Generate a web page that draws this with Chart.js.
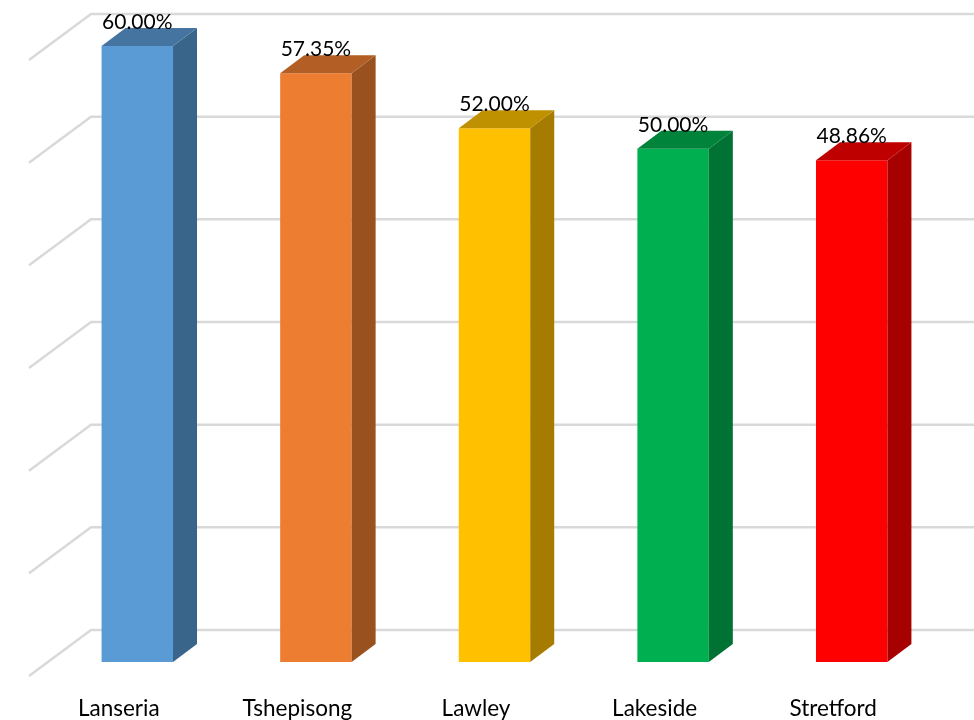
<!DOCTYPE html>
<html>
<head>
<meta charset="utf-8">
<title>Chart</title>
<script src="https://cdn.jsdelivr.net/npm/chart.js@4"></script>
<style>
    html, body { margin: 0; padding: 0; background: #fff; }
    canvas { display: block; }
</style>
</head>
<body>
<canvas id="barChart" width="974" height="720"></canvas>
<script>
const categories = ['Lanseria', 'Tshepisong', 'Lawley', 'Lakeside', 'Stretford'];
const percentValues = [60.00, 57.35, 52.00, 50.00, 48.86];
const axisTicks = [0, 10, 20, 30, 40, 50, 60];

const frontColors = ['#5B9BD5', '#ED7D31', '#FFC000', '#00B050', '#FF0000'];
const sideColors = ['#3A658B', '#9A5120', '#A67C00', '#007233', '#A60000'];
const topColors = ['#44749F', '#B25E25', '#BF9000', '#00843C', '#BF0000'];

const GRID_COLOR = '#D9D9D9';
const BAR_DEPTH = { x: 24, y: 18 };      // side and top faces of a bar
const WALL_BACK = 32;                    // back wall lines sit this far above the bar scale
const WALL_FRONT = { x: 29, y: 14 };     // where the side wall lines start
const WALL_CORNER_X = 91;

// back wall and side wall lines, behind the bars
const wallGrid = {
    id: 'wallGrid',
    beforeDatasetsDraw(chart) {
        const { ctx, scales: { y } } = chart;
        ctx.save();
        ctx.strokeStyle = GRID_COLOR;
        ctx.lineWidth = 2.5;
        ctx.lineJoin = 'miter';
        axisTicks.forEach(tick => {
            const py = y.getPixelForValue(tick);
            ctx.beginPath();
            ctx.moveTo(WALL_FRONT.x, py + WALL_FRONT.y);
            ctx.lineTo(WALL_CORNER_X, py - WALL_BACK);
            ctx.lineTo(chart.width, py - WALL_BACK);
            ctx.stroke();
        });
        ctx.restore();
    }
};

// side and top faces, then the value labels
const barFaces = {
    id: 'barFaces',
    afterDatasetsDraw(chart) {
        const { ctx } = chart;
        const bars = chart.getDatasetMeta(0).data;
        ctx.save();
        bars.forEach((bar, i) => {
            const left = bar.x - bar.width / 2;
            const right = bar.x + bar.width / 2;

            ctx.fillStyle = sideColors[i];
            ctx.beginPath();
            ctx.moveTo(right, bar.y);
            ctx.lineTo(right + BAR_DEPTH.x, bar.y - BAR_DEPTH.y);
            ctx.lineTo(right + BAR_DEPTH.x, bar.base - BAR_DEPTH.y);
            ctx.lineTo(right, bar.base);
            ctx.closePath();
            ctx.fill();

            ctx.fillStyle = topColors[i];
            ctx.beginPath();
            ctx.moveTo(left, bar.y);
            ctx.lineTo(left + BAR_DEPTH.x, bar.y - BAR_DEPTH.y);
            ctx.lineTo(right + BAR_DEPTH.x, bar.y - BAR_DEPTH.y);
            ctx.lineTo(right, bar.y);
            ctx.closePath();
            ctx.fill();
        });
        ctx.fillStyle = '#000';
        ctx.font = '21px Lato, "Open Sans", sans-serif';
        ctx.textAlign = 'center';
        ctx.textBaseline = 'alphabetic';
        bars.forEach((bar, i) => {
            ctx.fillText(percentValues[i].toFixed(2) + '%', bar.x, bar.y - 17);
        });
        ctx.restore();
    }
};

new Chart(document.getElementById('barChart').getContext('2d'), {
    type: 'bar',
    data: {
        labels: categories,
        datasets: [{
            data: percentValues,
            backgroundColor: frontColors,
            borderWidth: 0,
            barPercentage: 0.4,
            categoryPercentage: 1
        }]
    },
    options: {
        responsive: false,
        animation: false,
        layout: { padding: { left: 48, right: 33, top: 46, bottom: 0 } },
        plugins: { legend: { display: false }, tooltip: { enabled: false } },
        scales: {
            x: {
                grid: { display: false },
                border: { display: false },
                afterFit(scale) { scale.height = 58; },
                ticks: {
                    color: '#000',
                    font: { family: 'Lato, "Open Sans", sans-serif', size: 22.5 },
                    padding: 25,
                    labelOffset: -18.5,
                    maxRotation: 0
                }
            },
            y: {
                display: false,
                min: 0,
                max: 60,
                afterBuildTicks(scale) { scale.ticks = axisTicks.map(value => ({ value })); }
            }
        }
    },
    plugins: [wallGrid, barFaces]
});
</script>
</body>
</html>
